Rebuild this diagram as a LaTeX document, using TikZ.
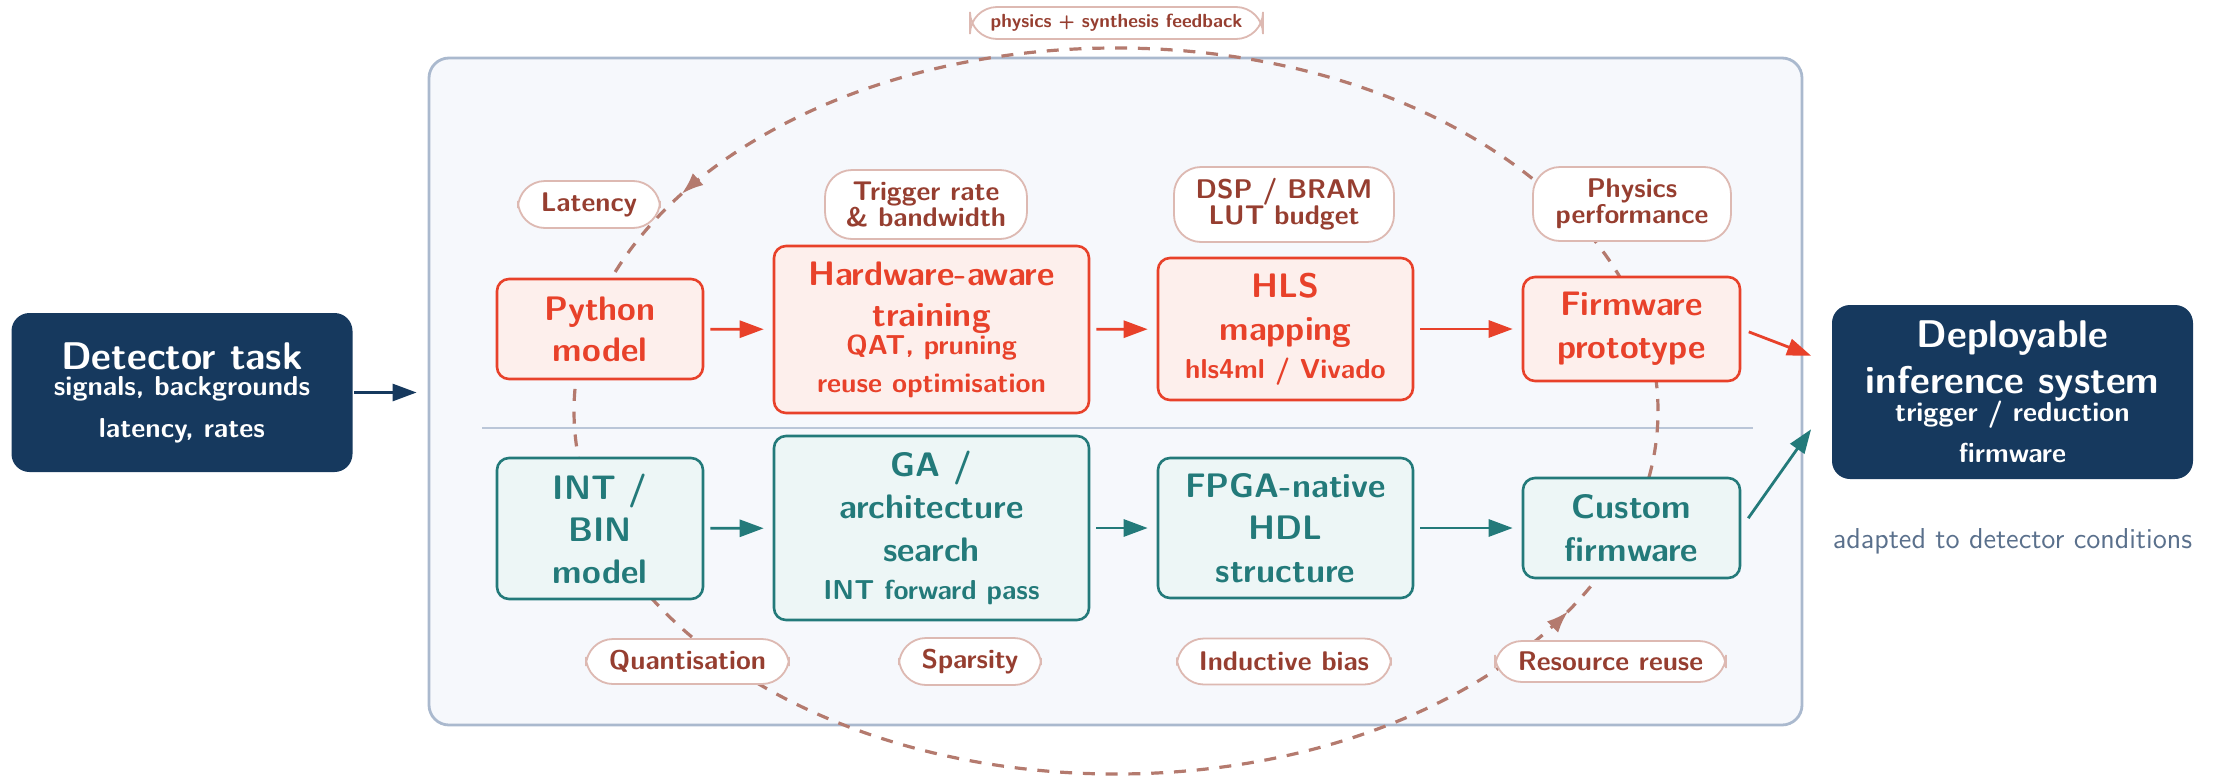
\documentclass[tikz,border=0pt]{standalone}
\usetikzlibrary{arrows.meta,decorations.markings,calc}
\definecolor{navy}{RGB}{22,57,94}
\definecolor{redc}{RGB}{232,65,42}
\definecolor{redfill}{RGB}{253,239,236}
\definecolor{tealc}{RGB}{35,122,122}
\definecolor{tealfill}{RGB}{237,246,246}
\definecolor{tagtext}{RGB}{150,62,48}
\definecolor{tagborder}{RGB}{221,185,178}
\definecolor{loopc}{RGB}{180,122,110}
\definecolor{framec}{RGB}{170,185,206}
\definecolor{framefill}{RGB}{246,248,252}
\definecolor{sepc}{RGB}{186,198,216}
\definecolor{notec}{RGB}{90,112,140}
\newcommand\subtxt{\fontsize{13.7}{15}\selectfont}
\newcommand\bigttl{\fontsize{19.3}{22}\selectfont}
\begin{document}
\begin{tikzpicture}[x=0.5pt,y=-0.5pt,
  basefont/.style={font=\sffamily\bfseries\fontsize{17}{22}\selectfont},
  box/.style={draw, line width=1.3pt, rounded corners=6pt, align=center, inner sep=0pt, basefont},
  redbox/.style={box, draw=redc, fill=redfill, text=redc},
  tealbox/.style={box, draw=tealc, fill=tealfill, text=tealc},
  navybox/.style={box, draw=none, fill=navy, text=white, rounded corners=9pt},
  tag/.style={draw=tagborder, line width=0.9pt, fill=white, text=tagtext, rounded corners=13.5pt, align=center, inner sep=0pt, font=\sffamily\bfseries\fontsize{13.5}{13}\selectfont},
  flow/.style={line width=1.4pt, -{Triangle[length=12pt,width=8.5pt]}, shorten <=3pt, shorten >=4.5pt},
  loopline/.style={draw=loopc, line width=1.6pt, dash pattern=on 6pt off 5.4pt},
  looptip/.style={decoration={markings,
      mark=at position 0.413 with {\arrow[loopc]{Latex[length=11pt,width=8pt]}},
      mark=at position 0.9215 with {\arrow[loopc]{Latex[length=11pt,width=8pt]}}},
    postaction=decorate}
]
\useasboundingbox (0,0) rectangle (2223,777);

% container
\node[draw=framec, fill=framefill, line width=1.4pt, rounded corners=10pt,
      minimum width=686.5pt, minimum height=333.5pt, inner sep=0pt] (panel) at (1115.5,391.5) {};
\draw[sepc, line width=0.8pt] (482,428) -- (1753,428);

% feedback loop
\draw[loopline, looptip] (1116,411) ellipse [x radius=271pt, y radius=181.5pt];

% left / right nodes
\node[navybox, minimum width=170.5pt, minimum height=79.5pt] (det) at (182,392.5)
  {{\bigttl Detector task}\\[-9pt]{\subtxt signals,\ backgrounds}\\[-1pt]{\subtxt latency,\ rates}};
\node[navybox, minimum width=180.5pt, minimum height=87pt] (dep) at (2012.5,392)
  {{\bigttl Deployable}\\[1pt]{\bigttl inference system}\\[-8pt]{\subtxt trigger\ /\ reduction}\\[-1.5pt]{\subtxt firmware}};
\node[text=notec, font=\sffamily\fontsize{14.4}{17}\selectfont] (note) at (2012.5,541) {adapted to detector conditions};

% top row
\node[redbox, minimum width=103pt, minimum height=50pt] (py) at (600,329) {Python\\[-1.5pt]model};
\node[redbox, minimum width=157.5pt, minimum height=83.5pt] (hw) at (931.5,329.5)
  {Hardware-aware\\[-1.5pt]training\\[-8pt]{\subtxt QAT,\ pruning}\\[-3pt]{\subtxt reuse\ optimisation}};
\node[redbox, minimum width=127.5pt, minimum height=71pt] (hls) at (1285.5,329)
  {HLS\\[-0.5pt]mapping\\[-3pt]{\subtxt hls4ml\ /\ Vivado}};
\node[redbox, minimum width=108.5pt, minimum height=52pt] (fw) at (1631.5,329) {Firmware\\[-0.5pt]prototype};

% bottom row
\node[tealbox, minimum width=103pt, minimum height=70.5pt] (ib) at (600,528.5) {INT /\\[-1pt]BIN\\[-1pt]model};
\node[tealbox, minimum width=157.5pt, minimum height=92pt] (ga) at (931.5,528)
  {GA /\\[-1pt]architecture\\[-0.5pt]search\\[-3pt]{\subtxt INT\ forward\ pass}};
\node[tealbox, minimum width=127.5pt, minimum height=70pt] (hdl) at (1285.5,528) {FPGA-native\\[-1pt]HDL\\[-0.5pt]structure};
\node[tealbox, minimum width=108.5pt, minimum height=50pt] (cf) at (1631.5,528) {Custom\\[-0.5pt]firmware};

% tags
\node[tag, minimum width=71pt, minimum height=23.5pt] (lat) at (589,204.5) {Latency};
\node[tag, minimum width=101pt, minimum height=34.5pt] (trig) at (926,204.5) {Trigger rate\\\& bandwidth};
\node[tag, minimum width=110pt, minimum height=37.5pt] (dsp) at (1284,204.5) {DSP / BRAM\\LUT budget};
\node[tag, minimum width=99pt, minimum height=37pt] (phys) at (1632,204) {Physics\\performance};
\node[tag, minimum width=101.5pt, minimum height=22.5pt] (quant) at (687.5,661.5) {Quantisation};
\node[tag, minimum width=71pt, minimum height=23.5pt] (spars) at (970,661.5) {Sparsity};
\node[tag, minimum width=107pt, minimum height=23pt] (ind) at (1284,661.5) {Inductive bias};
\node[tag, minimum width=115.5pt, minimum height=20.5pt] (reuse) at (1610.5,661.5) {Resource reuse};
\node[tag, minimum width=146.5pt, minimum height=16pt, font=\sffamily\bfseries\fontsize{9.5}{11}\selectfont] (fb) at (1116.5,23) {physics + synthesis feedback};

% connectors
\draw[flow, navy, shorten >=5.5pt, shorten <=0pt] (det) -- (panel.west |- det.east);
\draw[flow, redc] (py) -- (hw);
\draw[flow, redc] (hw) -- (hls);
\draw[flow, redc] (hls) -- (fw);
\draw[flow, tealc] (ib) -- (ga);
\draw[flow, tealc] (ga) -- (hdl);
\draw[flow, tealc] (hdl) -- (cf);
\draw[flow, redc, shorten <=4pt, shorten >=10.5pt] (fw.east) -- (dep.171);
\draw[flow, tealc, shorten <=6pt, shorten >=17pt] (cf.east) -- (dep.183);
\end{tikzpicture}
\end{document}
